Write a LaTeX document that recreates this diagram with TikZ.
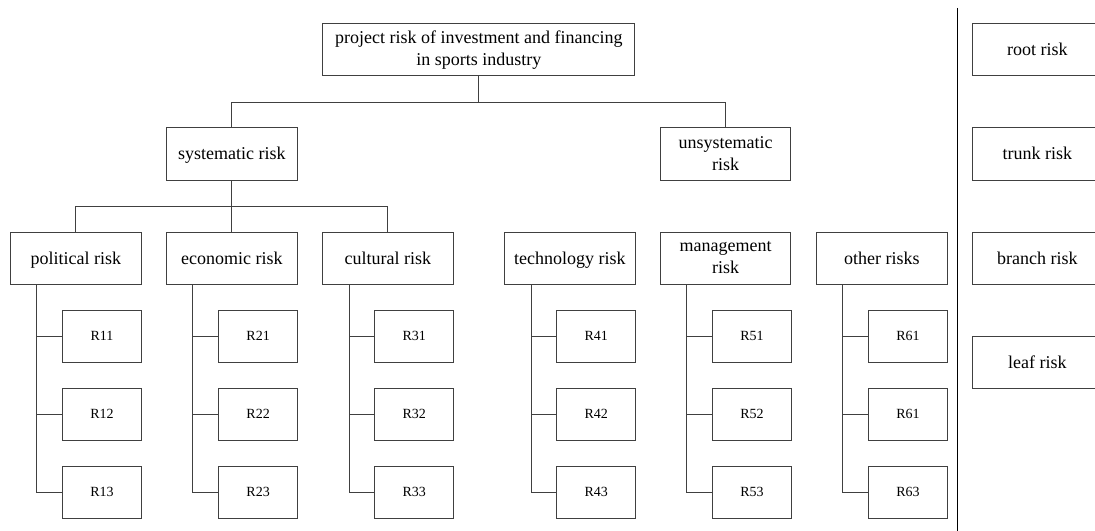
\documentclass[tikz,border=0pt]{standalone}
\usepackage{fontspec}
\setmainfont{Liberation Serif}
\begin{document}
\begin{tikzpicture}[x=0.75pt,y=-0.75pt,
  mbox/.style={draw=black!75,line width=0.75pt,minimum width=97.9pt,minimum height=39pt,inner sep=1pt,align=center,font=\fontsize{13.5}{16.5}\selectfont},
  box/.style={mbox,text height=11.4pt,text depth=2.4pt},
  rootbox/.style={mbox,minimum width=234.2pt},
  leafbox/.style={draw=black!75,line width=0.75pt,minimum width=58.9pt,minimum height=39pt,inner sep=1pt,font=\fontsize{10.5}{12}\selectfont},
  conn/.style={draw=black!75,line width=0.75pt},
  sep/.style={draw=black,line width=1pt}]
\clip (0,0) rectangle (1095,531);
\useasboundingbox (0,0) rectangle (1095,531);
% root and trunks
\node[rootbox] (root) at (478.8,50) {project risk of investment and financing\\in sports industry};
\node[box] (sys) at (231.85,154) {systematic risk};
\node[mbox] (unsys) at (725.7,154) {unsystematic\\risk};
\draw[conn] (root.south) -- ++(0,26) coordinate (j1);
\draw[conn] (sys.north) |- (j1) -| (unsys.north);
% branches and leaves
\foreach \i/\L/\t/\a/\b/\c/\st in {
  1/10.5/{political risk}/R11/R12/R13/box,
  2/166.6/{economic risk}/R21/R22/R23/box,
  3/322.7/{cultural risk}/R31/R32/R33/box,
  4/504.7/{technology risk}/R41/R42/R43/box,
  5/660.4/{management\\risk}/R51/R52/R53/mbox,
  6/816.5/{other risks}/R61/R61/R63/box}{
  \node[\st] (b\i) at (\L+65.25,258) {\t};
  \node[leafbox] (l\i a) at (\L+91.55,336) {\a};
  \node[leafbox] (l\i b) at (\L+91.55,414) {\b};
  \node[leafbox] (l\i c) at (\L+91.55,492) {\c};
  \coordinate (s\i) at (\L+26.3,284);
  \draw[conn] (s\i) |- (l\i c.west);
  \draw[conn] (s\i |- l\i a.west) -- (l\i a.west);
  \draw[conn] (s\i |- l\i b.west) -- (l\i b.west);
}
\draw[conn] (sys.south) -- ++(0,26) coordinate (j2);
\draw[conn] (b1.north) |- (j2) -| (b3.north);
\draw[conn] (b2.north) -- (j2);
% separator and legend
\coordinate (septop) at (957.5,8);
\coordinate (sepbot) at (957.5,531);
\draw[sep] (septop) -- (sepbot);
\node[box] (lg1) at (1037.45,50) {root risk};
\node[box] (lg2) at (1037.45,154) {trunk risk};
\node[box] (lg3) at (1037.45,258) {branch risk};
\node[box] (lg4) at (1037.45,362) {leaf risk};
\end{tikzpicture}
\end{document}
